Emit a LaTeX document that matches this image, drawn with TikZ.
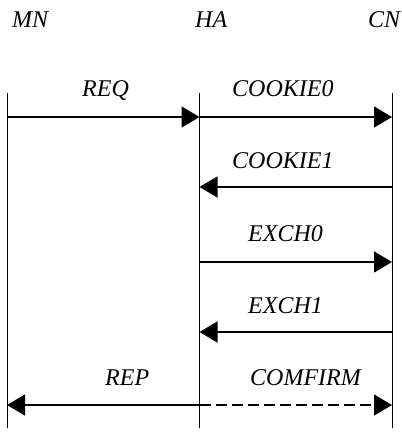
\documentclass[tikz,border=0pt]{standalone}
\usepackage{fontspec}
\setmainfont{Liberation Serif}
\usetikzlibrary{arrows.meta}

\tikzset{
  lifeline/.style={line width=0.9pt},
  msg/.style={line width=1.3pt,-{Triangle[length=18pt,width=21pt]}},
  lbl/.style={anchor=base west,inner sep=0pt,font=\fontsize{24}{28}\selectfont\itshape}
}

\begin{document}
\begin{tikzpicture}[x=1pt,y=-1pt]
\useasboundingbox (0,0) rectangle (401,435);
% the lifelines and the points where the messages meet them
\foreach \n/\x in {mn/7,ha/199.5,cn/392} {
  \coordinate (\n top) at (\x,93);
  \coordinate (\n bot) at (\x,428);
  \foreach \m/\y in {a/117,b/187,c/262,d/332,e/405}
    \coordinate (\n\m) at (\x,\y);
  \draw[lifeline] (\n top) -- (\n bot);
}
% the names above the lifelines
\node[lbl] (mnname) at (12,28) {MN};
\node[lbl] (haname) at (195,28) {HA};
\node[lbl] (cnname) at (368,28) {CN};
% the messages
\draw[msg] (mna) -- (haa);
\draw[msg] (haa) -- (cna);
\draw[msg] (cnb) -- (hab);
\draw[msg] (hac) -- (cnc);
\draw[msg] (cnd) -- (had);
\draw[msg] (hae) -- (mne);
\draw[msg,dash pattern=on 11pt off 5pt] (hae) -- (cne);
% the labels of the messages
\node[lbl] (req) at (82,97) {REQ};
\node[lbl] (cookie0) at (232,97) {COOKIE0};
\node[lbl] (cookie1) at (232,169) {COOKIE1};
\node[lbl] (exch0) at (248,241) {EXCH0};
\node[lbl] (exch1) at (248,313) {EXCH1};
\node[lbl] (rep) at (105,385) {REP};
\node[lbl] (comfirm) at (250,385) {COMFIRM};
\end{tikzpicture}
\end{document}
